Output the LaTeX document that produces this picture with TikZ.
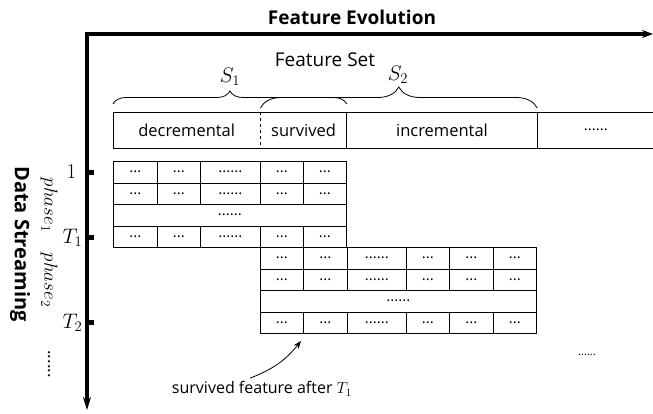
\RequirePackage{fix-cm}
\documentclass[tikz,border=0pt]{standalone}
\usepackage{fontspec}
\setmainfont{Open Sans}
\usetikzlibrary{positioning,decorations.pathreplacing,arrows.meta}

\newcommand{\tdot}{...}
\newcommand{\sdot}{......}

\tikzset{
  cell/.style={draw, line width=0.8pt, anchor=north west, minimum height=21.5,
    inner sep=0pt, font=\fontsize{15}{15}\selectfont},
  headcell/.style={anchor=north west, minimum height=36, inner sep=0pt,
    font=\fontsize{16.5}{18}\selectfont},
  axis/.style={line width=3.5pt, {Stealth[length=11pt,width=8pt]}-{Stealth[length=13pt,width=8pt]}},
  tickmark/.style={fill, minimum width=5, minimum height=5, inner sep=0pt},
  brace/.style={decorate, decoration={brace, amplitude=#1}, line width=0.8pt},
  mathlabel/.style={font=\fontsize{21}{21}\selectfont},
  boldlabel/.style={font=\bfseries\fontsize{19}{19}\selectfont}
}

\begin{document}
\begin{tikzpicture}[x=1pt,y=-1pt]
  \useasboundingbox (0,0) rectangle (653,413);

  \coordinate (orig) at (87,34);
  \coordinate (xend) at (653,34);
  \coordinate (yend) at (87,410);
  \draw[axis] (xend) -- (orig) -- (yend);

  \node[boldlabel] (title) at (352,17) {Feature Evolution};
  \node[boldlabel, rotate=-90, font=\bfseries\fontsize{20}{20}\selectfont] (stream) at (20,244) {Data Streaming};
  \node[font=\fontsize{19}{19}\selectfont] (fset) at (325,60) {Feature Set};

  \node[headcell, minimum width=147] (dec) at (113,112) {decremental};
  \node[headcell, minimum width=86, right=0pt of dec] (surv) {survived};
  \node[headcell, minimum width=190, right=0pt of surv] (inc) {incremental};
  \node[headcell, minimum width=117, right=0pt of inc, font=\fontsize{15}{15}\selectfont] (more) {\sdot};
  \draw[line width=0.8pt] (more.north east) -- (dec.north west) -- (dec.south west) -- (more.south east);
  \draw[line width=0.8pt, dashed] (surv.north west) -- (surv.south west);
  \draw[line width=0.8pt] (surv.north east) -- (surv.south east);
  \draw[line width=0.8pt] (inc.north east) -- (inc.south east);

  \draw[brace=13pt] ([yshift=8pt]dec.north west) -- ([yshift=8pt]surv.north east);
  \draw[brace=21pt] ([yshift=4pt]surv.north west) -- ([yshift=4pt]inc.north east);
  \node[mathlabel] (s1) at (230,77) {$S_1$};
  \node[mathlabel] (s2) at (398,75) {$S_2$};

  \foreach \x/\w/\t [count=\i] in {113/44/\tdot,157/43/\tdot,200/60/\sdot,260/43/\tdot,303/43/\tdot}
    \foreach \y/\r in {161/1,182.5/2,225.5/4}
      \node[cell, minimum width=\w] (a\r\i) at (\x,\y) {\t};
  \node[cell, minimum width=233] (a3) at (113,204) {\sdot};

  \foreach \x/\w/\t [count=\i] in {260/43/\tdot,303/44/\tdot,347/59/\sdot,406/43/\tdot,449/44/\tdot,493/43/\tdot}
    \foreach \y/\r in {247/1,268.5/2,311.5/4}
      \node[cell, minimum width=\w] (b\r\i) at (\x,\y) {\t};
  \node[cell, minimum width=276] (b3) at (260,290) {\sdot};

  \node[tickmark] (k1) at (91.5,172) {};
  \node[tickmark] (k2) at (91.5,237.5) {};
  \node[tickmark] (k3) at (91.5,322.5) {};
  \node[mathlabel, left=9pt of k1] (l1) {$1$};
  \node[mathlabel, left=3pt of k2] (l2) {$T_1$};
  \node[mathlabel, left=3pt of k3] (l3) {$T_2$};

  \node[font=\fontsize{19}{19}\selectfont, rotate=-90] (p1) at (49,205) {$phase_1$};
  \node[font=\fontsize{19}{19}\selectfont, rotate=-90] (p2) at (49,280) {$phase_2$};
  \node[font=\fontsize{17}{17}\selectfont, rotate=-90] (vdots) at (49,364) {\sdot};

  \node[font=\fontsize{16}{16}\selectfont] (note) at (262,389) {survived feature after $T_1$};
  \coordinate (aim) at (301,341);
  \draw[line width=0.8pt, -{Stealth[length=8pt,width=6pt]}] ([xshift=-12pt]note.north) to[bend right=15] (aim);

  \node[font=\fontsize{11}{11}\selectfont] (tail) at (587,355) {\sdot};
\end{tikzpicture}
\end{document}
